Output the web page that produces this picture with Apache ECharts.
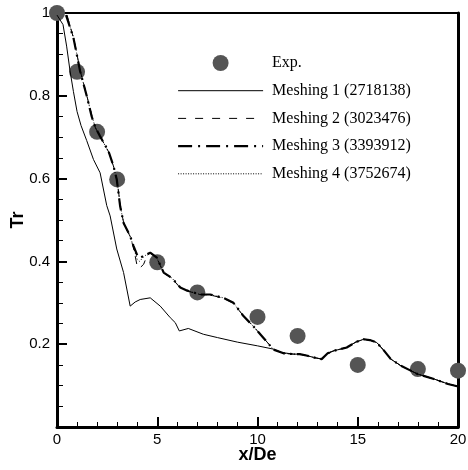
<!DOCTYPE html>
<html>
<head>
<meta charset="utf-8">
<script src="https://cdn.jsdelivr.net/npm/echarts@6/dist/echarts.min.js"></script>
<style>html,body{margin:0;padding:0;background:#fff;}#c{width:468px;height:470px;}</style>
</head>
<body>
<div id="c"></div>
<script>
var seriesNames = ['Exp.', 'Meshing 1 (2718138)', 'Meshing 2 (3023476)', 'Meshing 3 (3393912)', 'Meshing 4 (3752674)'];
var xTicks = [0, 5, 10, 15, 20];
var yTicks = [0.2, 0.4, 0.6, 0.8, 1];

var expData = [[0,1.0],[1,0.858],[2,0.713],[3,0.598],[5,0.398],[7,0.325],[10,0.266],[12,0.22],[15,0.15],[18,0.14],[20,0.136]];

var mesh1 = [[0,0.995],[0.3,0.972],[0.48,0.92],[0.65,0.86],[0.82,0.81],[1.0,0.762],[1.2,0.728],[1.48,0.692],[1.82,0.646],[2.15,0.614],[2.48,0.535],[2.65,0.51],[2.98,0.43],[3.32,0.373],[3.65,0.292],[3.9,0.302],[4.15,0.308],[4.65,0.312],[5.15,0.292],[5.65,0.264],[5.9,0.252],[6.1,0.232],[6.55,0.238],[7.3,0.224],[8.0,0.216],[9.0,0.205],[10.0,0.196],[10.8,0.188],[11.2,0.18],[11.8,0.176],[12.1,0.176],[12.5,0.172],[12.8,0.168],[13.2,0.164],[13.5,0.178],[13.8,0.184],[14.45,0.192],[14.9,0.205],[15.3,0.212],[15.6,0.21],[15.95,0.204],[16.3,0.185],[16.65,0.164],[17.15,0.148],[17.98,0.128],[18.8,0.116],[19.5,0.104],[20,0.098]];

var mesh2 = [[0.5,0.995],[0.85,0.935],[1.17,0.858],[1.5,0.798],[1.75,0.75],[1.92,0.722],[2.17,0.7],[2.58,0.664],[2.83,0.628],[3.0,0.595],[3.17,0.53],[3.34,0.49],[3.67,0.458],[3.85,0.425],[3.98,0.393],[4.15,0.385],[4.32,0.393],[4.5,0.415],[4.65,0.42],[4.98,0.408],[5.32,0.372],[5.73,0.359],[6.15,0.336],[6.47,0.329],[7.13,0.32],[7.63,0.319],[8.3,0.311],[8.8,0.299],[9.3,0.268],[9.8,0.243],[10.3,0.215],[10.8,0.187],[11.3,0.178],[11.8,0.176],[12.1,0.176],[12.5,0.172],[12.8,0.168],[13.2,0.164],[13.5,0.178],[13.8,0.184],[14.45,0.192],[14.9,0.205],[15.3,0.212],[15.6,0.21],[15.95,0.204],[16.3,0.185],[16.65,0.164],[17.15,0.148],[17.98,0.128],[18.8,0.116],[19.5,0.104],[20,0.098]];

var mesh3 = [[0.45,0.995],[0.82,0.94],[1.15,0.86],[1.48,0.8],[1.73,0.75],[1.9,0.725],[2.15,0.702],[2.57,0.666],[2.82,0.63],[2.98,0.598],[3.15,0.533],[3.32,0.493],[3.65,0.461],[3.82,0.437],[4.0,0.415],[4.15,0.409],[4.4,0.415],[4.65,0.421],[4.98,0.409],[5.32,0.373],[5.73,0.36],[6.15,0.337],[6.47,0.33],[7.13,0.32],[7.63,0.32],[8.3,0.312],[8.8,0.3],[9.3,0.268],[9.8,0.243],[10.3,0.215],[10.8,0.187],[11.3,0.178],[11.8,0.176],[12.1,0.176],[12.5,0.172],[12.8,0.168],[13.2,0.164],[13.5,0.178],[13.8,0.184],[14.45,0.192],[14.9,0.205],[15.3,0.212],[15.6,0.21],[15.95,0.204],[16.3,0.185],[16.65,0.164],[17.15,0.148],[17.98,0.128],[18.8,0.116],[19.5,0.104],[20,0.098]];

var mesh4 = [[0.47,0.995],[0.84,0.938],[1.16,0.859],[1.49,0.799],[1.74,0.751],[1.91,0.724],[2.16,0.701],[2.57,0.665],[2.82,0.629],[2.99,0.597],[3.16,0.532],[3.33,0.492],[3.66,0.46],[3.83,0.432],[4.0,0.405],[4.12,0.4],[4.3,0.41],[4.5,0.418],[4.65,0.421],[4.98,0.409],[5.32,0.373],[5.73,0.36],[6.15,0.337],[6.47,0.33],[7.13,0.32],[7.63,0.32],[8.3,0.312],[8.8,0.3],[9.3,0.268],[9.8,0.243],[10.3,0.215],[10.8,0.187],[11.3,0.178],[11.8,0.176],[12.1,0.176],[12.5,0.172],[12.8,0.168],[13.2,0.164],[13.5,0.178],[13.8,0.184],[14.45,0.192],[14.9,0.205],[15.3,0.212],[15.6,0.21],[15.95,0.204],[16.3,0.185],[16.65,0.164],[17.15,0.148],[17.98,0.128],[18.8,0.116],[19.5,0.104],[20,0.098]];

var chart = echarts.init(document.getElementById('c'), null, {renderer: 'canvas'});
var axisFont = 'Liberation Sans, Arial, sans-serif';
function fmtY(v){ v = parseFloat(Number(v).toFixed(2)); return v === 0 ? '' : String(v); }

var legendLines = [null, {width: 1, type: 'solid'}, {width: 1, type: [8, 9]}, {width: 2.2, type: [14, 6, 2, 6]}, {width: 1, type: [1, 1.5]}];
var legendData = seriesNames.map(function(n, i){
  if (i === 0) return {name: n, itemStyle: {color: '#555555', opacity: 1}};
  return {name: n, itemStyle: {opacity: 0}, lineStyle: {color: '#000', width: legendLines[i].width, type: legendLines[i].type}};
});

var option = {
  backgroundColor: '#ffffff',
  animation: false,
  grid: {left: 57, right: 10, top: 13, bottom: 43, containLabel: false, outerBoundsMode: 'none'},
  legend: {
    orient: 'vertical',
    left: 172, top: 50,
    itemWidth: 85, itemHeight: 16, itemGap: 11.7,
    textStyle: {fontFamily: 'Liberation Serif, Times New Roman, serif', fontSize: 16, color: '#000', padding: [0,0,0,4]},
    data: legendData
  },
  xAxis: [{
    type: 'value', min: xTicks[0], max: xTicks[xTicks.length-1], interval: 5,
    name: 'x/De', nameLocation: 'middle', nameGap: 19, nameMoveOverlap: false,
    nameTextStyle: {fontFamily: axisFont, fontWeight: 'bold', fontSize: 18, color: '#000'},
    axisLine: {show: true, onZero: false, lineStyle: {color: '#000', width: 3}},
    axisTick: {show: true, inside: true, length: 10, lineStyle: {color: '#000', width: 2}},
    minorTick: {show: true, splitNumber: 5, length: 5, lineStyle: {color: '#000', width: 1}},
    axisLabel: {fontFamily: axisFont, fontSize: 15, color: '#000', margin: 5, formatter: function(v){ return String(v); }},
    splitLine: {show: false}
  }, {
    type: 'value', position: 'top', min: 0, max: 20,
    axisLine: {show: true, onZero: false, lineStyle: {color: '#000', width: 2}},
    axisTick: {show: false}, axisLabel: {show: false}, splitLine: {show: false}
  }],
  yAxis: [{
    type: 'value', min: 0, max: yTicks[yTicks.length-1], interval: 0.2,
    name: 'Tr', nameLocation: 'middle', nameGap: 30, nameRotate: 90, nameMoveOverlap: false,
    nameTextStyle: {fontFamily: axisFont, fontWeight: 'bold', fontSize: 18, color: '#000'},
    axisLine: {show: true, onZero: false, lineStyle: {color: '#000', width: 3}},
    axisTick: {show: true, inside: true, length: 10, lineStyle: {color: '#000', width: 2}},
    minorTick: {show: true, splitNumber: 4, length: 6, lineStyle: {color: '#000', width: 1}},
    axisLabel: {fontFamily: axisFont, fontSize: 15, color: '#000', margin: 7, formatter: function(v){ return fmtY(v); }},
    splitLine: {show: false}
  }, {
    type: 'value', position: 'right', min: 0, max: 1,
    axisLine: {show: true, onZero: false, lineStyle: {color: '#000', width: 3}},
    axisTick: {show: false}, axisLabel: {show: false}, splitLine: {show: false}
  }],
  series: [{
    name: seriesNames[0], type: 'scatter', data: expData,
    symbol: 'circle', symbolSize: 16, z: 1,
    itemStyle: {color: '#555555', opacity: 1}
  }, {
    name: seriesNames[1], type: 'line', data: mesh1, symbol: 'none', showSymbol: false, z: 3,
    lineStyle: {color: '#000', width: 1, type: 'solid'}, itemStyle: {color: '#000'}
  }, {
    name: seriesNames[2], type: 'line', data: mesh2, symbol: 'none', showSymbol: false, z: 3,
    lineStyle: {color: '#000', width: 1, type: [8, 6]}, itemStyle: {color: '#000'}
  }, {
    name: seriesNames[3], type: 'line', data: mesh3, symbol: 'none', showSymbol: false, z: 3,
    lineStyle: {color: '#000', width: 2.2, type: [12, 5, 2, 5]}, itemStyle: {color: '#000'}
  }, {
    name: seriesNames[4], type: 'line', data: mesh4, symbol: 'none', showSymbol: false, z: 3,
    lineStyle: {color: '#000', width: 1, type: [1, 2]}, itemStyle: {color: '#000'}
  }]
};
chart.setOption(option);
</script>
</body>
</html>
